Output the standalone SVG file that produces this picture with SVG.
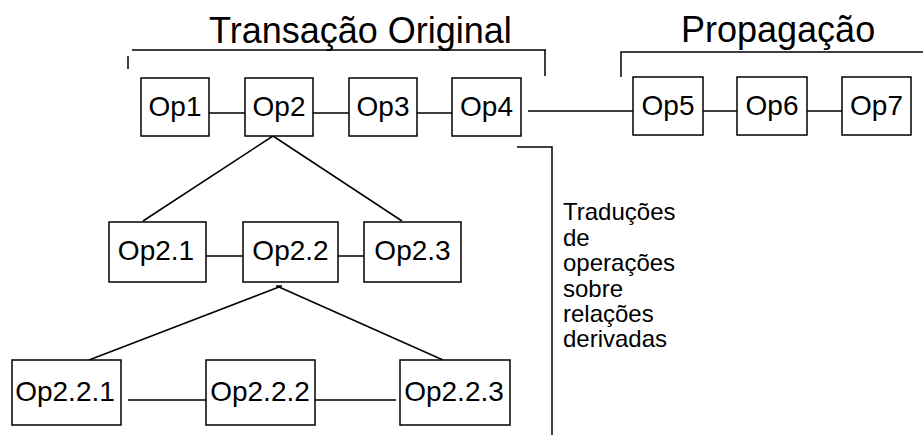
<svg xmlns="http://www.w3.org/2000/svg" width="923" height="435" viewBox="0 0 923 435">
  <style>
    .box { fill: #ffffff; stroke: #000000; stroke-width: 1.5; }
    .ln { fill: none; stroke: #000000; stroke-width: 1.5; }
    .lbl { font-family: "Liberation Sans", Arial, sans-serif; font-size: 28px; fill: #000000; text-anchor: middle; }
    .title { font-family: "Liberation Sans", Arial, sans-serif; font-size: 36px; fill: #000000; }
    .note { font-family: "Liberation Sans", Arial, sans-serif; font-size: 24px; fill: #000000; }
  </style>
  <rect width="923" height="435" fill="#ffffff"/>

  <!-- group brackets and headings -->
  <g id="bracket-original">
    <path class="ln" d="M132 50 H546 M545 50 V76 M128 56 V69"/>
    <text class="title" x="209" y="43">Transação Original</text>
  </g>
  <g id="bracket-propagacao">
    <path class="ln" d="M621 77 V52 H923"/>
    <text class="title" x="681" y="42">Propagação</text>
  </g>

  <!-- connectors -->
  <g id="connectors">
    <path class="ln" d="M209 113 H248 M313 113 H352 M417 113 H455"/>
    <path class="ln" d="M528 111 H633"/>
    <path class="ln" d="M703 111 H739 M807 111 H845"/>
    <path class="ln" d="M273 136 L143 221 M273 136 L402 221"/>
    <path class="ln" d="M206 256 H243 M338 256 H364"/>
    <path class="ln" d="M279 287 L89 360 M279 287 L443 360 M276 286 H282"/>
    <path class="ln" d="M128 400 H206 M315 400 H396"/>
    <path class="ln" d="M517 147 H552 V435"/>
  </g>

  <!-- top row -->
  <g id="op1"><rect class="box" x="141" y="78" width="68" height="58"/><text class="lbl" x="175" y="116">Op1</text></g>
  <g id="op2"><rect class="box" x="245" y="78" width="68" height="58"/><text class="lbl" x="279" y="116">Op2</text></g>
  <g id="op3"><rect class="box" x="349" y="78" width="68" height="58"/><text class="lbl" x="383" y="116">Op3</text></g>
  <g id="op4"><rect class="box" x="452" y="78" width="69" height="58"/><text class="lbl" x="486.5" y="116">Op4</text></g>
  <g id="op5"><rect class="box" x="633" y="77" width="70" height="58"/><text class="lbl" x="668" y="115">Op5</text></g>
  <g id="op6"><rect class="box" x="737" y="77" width="70" height="58"/><text class="lbl" x="772" y="115">Op6</text></g>
  <g id="op7"><rect class="box" x="842" y="77" width="69" height="58"/><text class="lbl" x="876.5" y="115">Op7</text></g>

  <!-- second level -->
  <g id="op2-1"><rect class="box" x="109" y="222" width="97" height="60"/><text class="lbl" x="156" y="260">Op2.1</text></g>
  <g id="op2-2"><rect class="box" x="243" y="222" width="95" height="60"/><text class="lbl" x="290.5" y="260">Op2.2</text></g>
  <g id="op2-3"><rect class="box" x="364" y="222" width="97" height="60"/><text class="lbl" x="412.5" y="260">Op2.3</text></g>

  <!-- third level -->
  <g id="op2-2-1"><rect class="box" x="12" y="360" width="109" height="65"/><text class="lbl" x="65" y="401">Op2.2.1</text></g>
  <g id="op2-2-2"><rect class="box" x="206" y="360" width="109" height="65"/><text class="lbl" x="260" y="401">Op2.2.2</text></g>
  <g id="op2-2-3"><rect class="box" x="400" y="360" width="110" height="65"/><text class="lbl" x="454" y="401">Op2.2.3</text></g>

  <!-- side note -->
  <g id="note">
    <text class="note" x="563" y="220">Traduções</text>
    <text class="note" x="563" y="246">de</text>
    <text class="note" x="563" y="271">operações</text>
    <text class="note" x="563" y="297">sobre</text>
    <text class="note" x="563" y="322">relações</text>
    <text class="note" x="563" y="347">derivadas</text>
  </g>
</svg>
